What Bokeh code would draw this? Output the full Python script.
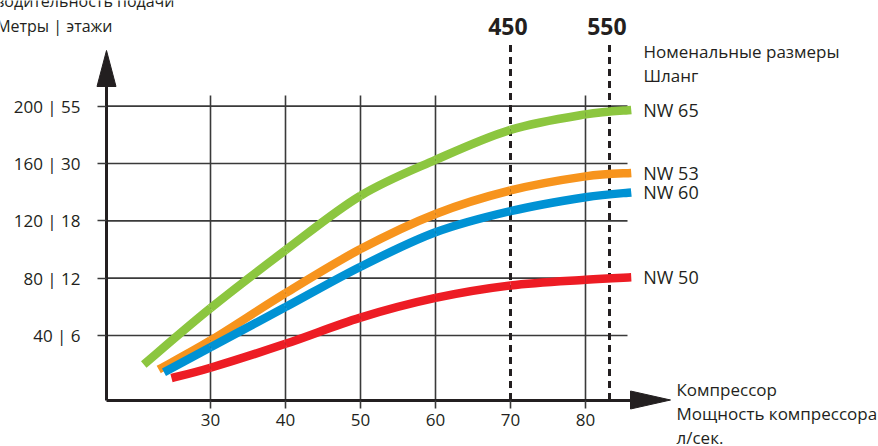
from bokeh.plotting import figure
from bokeh.models import Range1d, FixedTicker
from bokeh.core.properties import value
from bokeh.embed import file_html
from bokeh.resources import INLINE

# ---------------- data ----------------
x_ticks = [30, 40, 50, 60, 70, 80]
y_ticks = [40, 80, 120, 160, 200]
y_tick_labels = ["40 | 6", "80 | 12", "120 | 18", "160 | 30", "200 | 55"]

marker_x = [70, 83.2]
marker_labels = ["450", "550"]

series_names = ["NW 65", "NW 53", "NW 60", "NW 50"]
series_colors = ["#8cc63f", "#f7941d", "#0092d4", "#ed1c24"]

nw65_x = [21.1, 30, 40, 50, 60, 70, 80, 86.1]
nw65_y = [19.8, 59.1, 99.5, 137.5, 162.5, 183.5, 194.3, 197.4]
nw53_x = [23.1, 30, 40, 50, 60, 70, 80, 86.1]
nw53_y = [16.3, 36.5, 69.5, 100.3, 124.8, 141.2, 151.0, 153.4]
nw60_x = [23.8, 30, 40, 50, 60, 70, 80, 86.1]
nw60_y = [14.4, 31.8, 59.8, 88.0, 112.0, 126.8, 136.5, 139.8]
nw50_x = [24.8, 30, 40, 50, 60, 70, 80, 86.1]
nw50_y = [10.3, 17.5, 34.2, 52.5, 66.2, 74.9, 78.9, 80.6]

y_title = ["Производительность подачи", "Метры | этажи"]
legend_title = ["Номенальные размеры", "Шланг"]
x_title = ["Компрессор", "Мощность компрессора", "л/сек."]

# ---------------- layout helpers (screen px -> data) ----------------
W, H = 878, 446
XPX = 7.5            # px per x unit
YPX = 229.33 / 160   # px per y unit


def x_at(px):
    return 30 + (px - 210) / XPX


def y_at(py):
    return 40 + (335 - py) / YPX


def smooth(xs, ys):
    """Catmull-Rom through the read points, as cubic Bezier pieces."""
    n = len(xs)
    out = {k: [] for k in ("x0", "y0", "x1", "y1", "cx0", "cy0", "cx1", "cy1")}
    for i in range(n - 1):
        a = max(i - 1, 0)
        b = min(i + 2, n - 1)
        out["x0"].append(xs[i]); out["y0"].append(ys[i])
        out["x1"].append(xs[i + 1]); out["y1"].append(ys[i + 1])
        out["cx0"].append(xs[i] + (xs[i + 1] - xs[a]) / 6)
        out["cy0"].append(ys[i] + (ys[i + 1] - ys[a]) / 6)
        out["cx1"].append(xs[i + 1] - (xs[b] - xs[i]) / 6)
        out["cy1"].append(ys[i + 1] - (ys[b] - ys[i]) / 6)
    return out


FONT = value("Open Sans")
INK = "#231f20"
GRID = "#3a3a3a"

p = figure(width=W, height=H, output_backend="svg", toolbar_location=None,
           x_range=Range1d(x_at(0), x_at(W)), y_range=Range1d(y_at(H), y_at(0)),
           min_border=0, min_border_left=0, min_border_right=0,
           min_border_top=0, min_border_bottom=0)
p.outline_line_color = None
p.background_fill_color = "white"
p.border_fill_color = "white"
p.xgrid.visible = False
p.ygrid.visible = False

x_axis_y = y_at(399.5)
y_axis_x = x_at(106)

# x axis
xa = p.xaxis[0]
xa.fixed_location = x_axis_y
xa.bounds = (y_axis_x, x_at(634))
xa.ticker = FixedTicker(ticks=x_ticks)
xa.axis_line_width = 3
xa.axis_line_color = INK
xa.major_tick_in = 0
xa.major_tick_out = 8
xa.major_tick_line_width = 1.6
xa.major_tick_line_color = GRID
xa.minor_tick_line_color = None
xa.major_label_text_font = "Open Sans"
xa.major_label_text_font_size = "17px"
xa.major_label_text_color = INK
xa.major_label_standoff = 6

# y axis
ya = p.yaxis[0]
ya.fixed_location = y_axis_x
ya.bounds = (x_axis_y, y_at(84))
ya.ticker = FixedTicker(ticks=y_ticks)
ya.major_label_overrides = {t: l for t, l in zip(y_ticks, y_tick_labels)}
ya.axis_line_width = 3
ya.axis_line_color = INK
ya.major_tick_in = 0
ya.major_tick_out = 9
ya.major_tick_line_width = 1.6
ya.major_tick_line_color = GRID
ya.minor_tick_line_color = None
ya.major_label_text_font = "Open Sans"
ya.major_label_text_font_size = "17px"
ya.major_label_text_color = INK
ya.major_label_standoff = 17

# grid segments (bounded)
vx = [t for t in x_ticks if t not in marker_x]
p.segment(x0=vx, y0=[x_axis_y] * len(vx), x1=vx, y1=[y_at(95)] * len(vx),
          line_color=GRID, line_width=1.6)
p.segment(x0=[y_axis_x] * len(y_ticks), y0=y_ticks,
          x1=[x_at(627)] * len(y_ticks), y1=y_ticks,
          line_color=GRID, line_width=1.6)

# arrow heads
p.patch(x=[y_axis_x - 9.5 / XPX, y_axis_x + 9.5 / XPX, y_axis_x],
        y=[y_at(86), y_at(86), y_at(50)], fill_color=INK, line_color=INK, line_width=1)
p.patch(x=[x_at(630), x_at(630), x_at(670)],
        y=[x_axis_y + 9 / YPX, x_axis_y - 9 / YPX, x_axis_y],
        fill_color=INK, line_color=INK, line_width=1)

# dashed marker lines
p.segment(x0=marker_x, y0=[x_axis_y] * len(marker_x), x1=marker_x,
          y1=[y_at(41)] * len(marker_x), line_color=INK, line_width=3,
          line_dash="7 5")
p.text(x=[m - 0.35 for m in marker_x], y=[y_at(26)] * len(marker_x),
       text=marker_labels, text_font=FONT, text_font_size="23px",
       text_font_style="bold", text_color=INK, text_align="center",
       text_baseline="alphabetic")

# series
series = [(nw65_x, nw65_y), (nw53_x, nw53_y), (nw60_x, nw60_y), (nw50_x, nw50_y)]
for (xs, ys), name, col in zip(series, series_names, series_colors):
    p.bezier(line_color=col, line_width=8.5, line_cap="butt", **smooth(xs, ys))
    p.text(x=[xs[-1] + 1.6], y=[ys[-1]], text=[name], text_font=FONT,
           text_font_size="18px", text_color=INK, text_align="left",
           text_baseline="middle")

# titles / annotations
p.text(x=[x_at(174), x_at(112)], y=[y_at(0), y_at(25)], text=y_title,
       text_font=FONT, text_font_size="16px", text_color=INK,
       text_align="right", text_baseline="alphabetic")
p.text(x=[x_at(643)] * 2, y=[y_at(51), y_at(75)], text=legend_title,
       text_font=FONT, text_font_size="17px", text_color=INK,
       text_align="left", text_baseline="alphabetic")
p.text(x=[x_at(676)] * 3, y=[y_at(389), y_at(413), y_at(437)], text=x_title,
       text_font=FONT, text_font_size="17px", text_color=INK,
       text_align="left", text_baseline="alphabetic")

open("out.html", "w").write(file_html(p, INLINE))
